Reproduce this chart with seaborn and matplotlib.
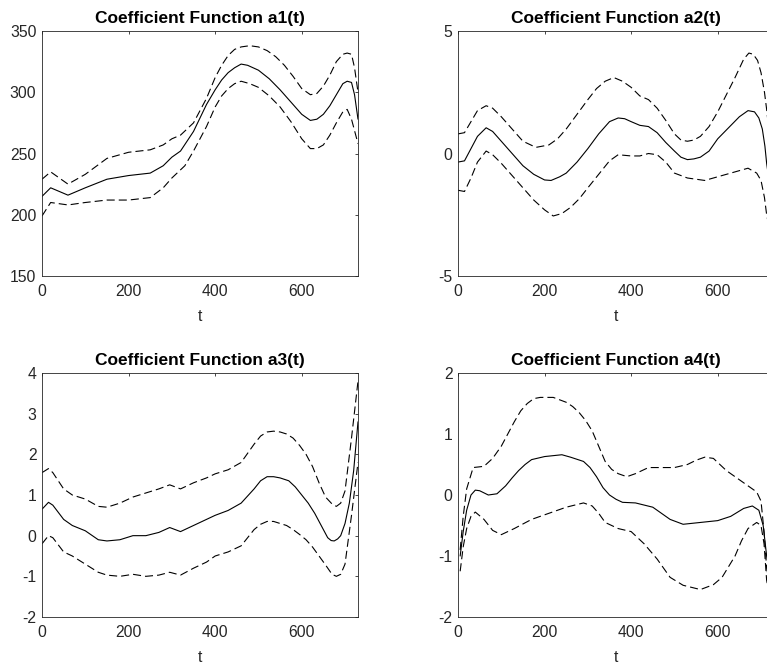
import numpy as np
import pandas as pd
import matplotlib
matplotlib.use("Agg")
import matplotlib.pyplot as plt
import seaborn as sns

# ---------------- data ----------------
t1 = [0, 20, 60, 100, 150, 200, 250, 280, 300, 320, 350, 380, 400, 415, 430, 445, 460, 475, 500, 525, 550, 575, 600, 620, 635, 650, 665, 680, 695, 705, 715, 722, 730]
a1_mid = [215, 222, 216, 222, 229, 232, 234, 240, 247, 252, 268, 290, 302, 310, 316, 320, 323, 322, 318, 311, 302, 292, 282, 277, 278, 282, 289, 298, 307, 309, 308, 298, 278]
t1u = [0, 20, 60, 100, 150, 200, 250, 280, 300, 320, 350, 380, 400, 415, 430, 445, 460, 480, 500, 520, 540, 560, 580, 600, 620, 635, 650, 665, 680, 695, 705, 715, 722, 730]
a1_up = [229, 235, 225, 233, 246, 251, 253, 257, 262, 265, 275, 295, 312, 322, 330, 335, 337, 338, 337, 334, 329, 322, 313, 303, 298, 299, 305, 314, 325, 331, 332, 331, 320, 300]
t1l = [0, 20, 60, 100, 150, 200, 250, 280, 300, 330, 350, 380, 400, 415, 430, 445, 460, 480, 500, 525, 550, 575, 600, 620, 635, 650, 665, 680, 695, 705, 715, 730]
a1_lo = [199, 210, 208, 210, 212, 212, 214, 222, 230, 240, 252, 272, 288, 297, 303, 307, 309, 307, 304, 297, 288, 276, 262, 254, 254, 257, 265, 275, 284, 286, 278, 258]

t2 = [0, 15, 30, 45, 65, 80, 100, 125, 150, 175, 200, 215, 235, 250, 275, 300, 325, 350, 370, 385, 400, 420, 440, 460, 480, 500, 515, 530, 545, 560, 580, 600, 625, 650, 670, 685, 695, 703, 709, 713, 730]
a2_mid = [-0.35, -0.3, 0.2, 0.7, 1.05, 0.9, 0.5, 0.0, -0.5, -0.85, -1.08, -1.1, -0.95, -0.8, -0.35, 0.2, 0.8, 1.3, 1.45, 1.42, 1.3, 1.15, 1.1, 0.85, 0.45, 0.1, -0.15, -0.25, -0.22, -0.15, 0.1, 0.6, 1.05, 1.5, 1.75, 1.7, 1.45, 1.0, 0.3, -0.4, -2.5]
t2u = [0, 15, 30, 45, 65, 80, 100, 125, 150, 180, 210, 230, 250, 275, 300, 320, 340, 360, 380, 400, 420, 440, 460, 480, 500, 515, 530, 545, 560, 580, 600, 620, 640, 660, 672, 682, 692, 700, 708, 713, 730]
a2_up = [0.8, 0.85, 1.3, 1.75, 1.95, 1.85, 1.5, 1.0, 0.5, 0.25, 0.35, 0.6, 1.0, 1.6, 2.2, 2.65, 2.95, 3.1, 2.95, 2.7, 2.35, 2.2, 1.85, 1.35, 0.8, 0.55, 0.5, 0.55, 0.7, 1.1, 1.7, 2.4, 3.1, 3.85, 4.1, 4.05, 3.8, 3.3, 2.5, 1.8, -1.0]
t2l = [0, 15, 30, 45, 65, 80, 100, 125, 150, 175, 200, 220, 240, 260, 280, 300, 325, 350, 370, 400, 420, 440, 460, 480, 500, 530, 570, 600, 640, 670, 690, 700, 708, 713, 730]
a2_lo = [-1.5, -1.55, -1.0, -0.35, 0.1, -0.05, -0.4, -0.9, -1.4, -1.9, -2.3, -2.55, -2.45, -2.2, -1.85, -1.4, -0.85, -0.3, -0.05, -0.1, -0.1, 0.0, -0.05, -0.35, -0.8, -1.0, -1.1, -0.95, -0.75, -0.6, -0.8, -1.1, -1.8, -2.5, -4.0]

t3 = [0, 15, 25, 50, 70, 100, 130, 150, 180, 210, 240, 270, 295, 320, 350, 380, 400, 430, 460, 490, 505, 520, 535, 550, 570, 585, 600, 615, 630, 645, 660, 668, 675, 683, 690, 700, 710, 720, 730]
a3_mid = [0.65, 0.82, 0.75, 0.4, 0.25, 0.12, -0.1, -0.13, -0.1, 0.0, 0.0, 0.08, 0.2, 0.1, 0.25, 0.4, 0.5, 0.62, 0.8, 1.15, 1.35, 1.45, 1.45, 1.42, 1.35, 1.2, 1.0, 0.8, 0.55, 0.25, -0.05, -0.12, -0.13, -0.08, 0.0, 0.3, 0.8, 1.6, 2.8]
t3u = [0, 15, 25, 50, 70, 100, 130, 150, 180, 210, 240, 270, 295, 320, 350, 380, 400, 430, 460, 490, 505, 520, 535, 550, 565, 580, 595, 610, 625, 640, 655, 670, 680, 690, 700, 715, 730]
a3_up = [1.55, 1.65, 1.55, 1.15, 1.0, 0.9, 0.72, 0.7, 0.8, 0.95, 1.05, 1.15, 1.25, 1.15, 1.3, 1.42, 1.52, 1.62, 1.8, 2.25, 2.45, 2.55, 2.57, 2.55, 2.5, 2.4, 2.22, 2.0, 1.7, 1.3, 0.95, 0.78, 0.72, 0.8, 1.1, 2.4, 3.8]
t3l = [0, 15, 25, 50, 70, 100, 130, 150, 180, 210, 240, 270, 295, 320, 350, 380, 400, 430, 460, 490, 505, 520, 535, 550, 565, 580, 595, 610, 625, 640, 655, 670, 680, 690, 700, 715, 730]
a3_lo = [-0.2, 0.0, -0.05, -0.4, -0.5, -0.7, -0.9, -0.97, -1.0, -0.95, -1.0, -0.97, -0.9, -0.97, -0.8, -0.65, -0.5, -0.4, -0.25, 0.15, 0.28, 0.35, 0.35, 0.3, 0.25, 0.15, 0.03, -0.1, -0.28, -0.5, -0.72, -0.95, -1.0, -0.95, -0.7, 0.5, 1.8]

t4 = [5, 12, 20, 30, 40, 50, 70, 90, 110, 125, 140, 155, 170, 200, 240, 260, 290, 305, 320, 335, 350, 365, 380, 410, 450, 470, 490, 520, 560, 600, 630, 660, 680, 695, 705, 713, 730]
a4_mid = [-1.0, -0.6, -0.25, 0.0, 0.08, 0.07, 0.0, 0.02, 0.15, 0.28, 0.4, 0.5, 0.58, 0.63, 0.66, 0.62, 0.55, 0.45, 0.3, 0.12, 0.0, -0.07, -0.12, -0.13, -0.2, -0.3, -0.4, -0.48, -0.45, -0.42, -0.35, -0.22, -0.18, -0.25, -0.5, -1.0, -1.5]
t4u = [5, 12, 20, 35, 60, 80, 100, 115, 130, 145, 160, 175, 190, 220, 250, 265, 280, 295, 310, 325, 340, 355, 370, 390, 410, 440, 470, 500, 530, 550, 570, 590, 620, 660, 690, 700, 707, 713, 730]
a4_up = [-0.9, -0.35, 0.1, 0.45, 0.47, 0.6, 0.8, 1.0, 1.2, 1.38, 1.5, 1.58, 1.6, 1.6, 1.52, 1.45, 1.35, 1.22, 1.05, 0.8, 0.55, 0.42, 0.35, 0.3, 0.35, 0.45, 0.45, 0.45, 0.5, 0.57, 0.62, 0.6, 0.4, 0.2, 0.05, -0.1, -0.6, -1.2, -1.8]
t4l = [5, 12, 20, 30, 40, 60, 80, 100, 130, 170, 210, 250, 290, 310, 325, 340, 370, 400, 430, 460, 490, 520, 560, 590, 610, 640, 655, 670, 690, 700, 707, 713, 730]
a4_lo = [-1.25, -0.85, -0.55, -0.35, -0.28, -0.4, -0.58, -0.65, -0.55, -0.4, -0.3, -0.2, -0.13, -0.18, -0.3, -0.45, -0.55, -0.6, -0.8, -1.05, -1.35, -1.48, -1.55, -1.47, -1.35, -1.0, -0.75, -0.55, -0.45, -0.5, -0.8, -1.4, -2.0]

titles = ["Coefficient Function a1(t)", "Coefficient Function a2(t)",
          "Coefficient Function a3(t)", "Coefficient Function a4(t)"]
ylims = [(150, 350), (-5, 5), (-2, 4), (-2, 2)]
yticks = [[150, 200, 250, 300, 350], [-5, 0, 5], [-2, -1, 0, 1, 2, 3, 4], [-2, -1, 0, 1, 2]]
xticks = [0, 200, 400, 600]
xlim = (0, 730)

panels = [
    ((t1, a1_mid), (t1u, a1_up), (t1l, a1_lo)),
    ((t2, a2_mid), (t2u, a2_up), (t2l, a2_lo)),
    ((t3, a3_mid), (t3u, a3_up), (t3l, a3_lo)),
    ((t4, a4_mid), (t4u, a4_up), (t4l, a4_lo)),
]

# ---------------- style ----------------
sns.set_theme(style="white")
plt.rcParams["font.family"] = ["Liberation Sans", "DejaVu Sans"]
plt.rcParams["lines.scale_dashes"] = False
plt.rcParams["axes.unicode_minus"] = False
axcol = "#262626"

W, H = 767, 667
fig = plt.figure(figsize=(W / 100, H / 100), dpi=100)
fig.patch.set_facecolor("white")

lefts = [42, 458, 42, 458]
tops = [31, 31, 373, 373]
bottoms = [276, 276, 617, 617]
aw = 316

for i, (panel, title) in enumerate(zip(panels, titles)):
    l, tp, bt = lefts[i], tops[i], bottoms[i]
    ax = fig.add_axes([l / W, (H - bt) / H, aw / W, (bt - tp) / H])
    (tm, ym), (tu, yu), (tl, yl) = panel
    sns.lineplot(x=tm, y=ym, ax=ax, color="black", linewidth=0.8, sort=False)
    sns.lineplot(x=tu, y=yu, ax=ax, color="black", linewidth=0.8, sort=False,
                 linestyle=(0, (5.8, 2.9)))
    sns.lineplot(x=tl, y=yl, ax=ax, color="black", linewidth=0.8, sort=False,
                 linestyle=(0, (5.8, 2.9)))
    ax.set_xlim(*xlim)
    ax.set_ylim(*ylims[i])
    ax.set_xticks(xticks)
    ax.set_yticks(yticks[i])
    ax.set_xlabel("t", fontsize=11.3, color=axcol, labelpad=7)
    ax.set_ylabel("")
    ax.set_title(title, fontsize=12.5, fontweight="bold", color="black", pad=6)
    ax.tick_params(direction="in", length=2.5, width=0.6, colors=axcol,
                   labelsize=11.3, top=True, right=True)
    ax.tick_params(axis="x", pad=6)
    ax.tick_params(axis="y", pad=4)
    for s in ax.spines.values():
        s.set_visible(True)
        s.set_color(axcol)
        s.set_linewidth(0.6)
    ax.set_facecolor("white")
    ax.grid(False)

fig.savefig("out.png", dpi=100, facecolor="white")
